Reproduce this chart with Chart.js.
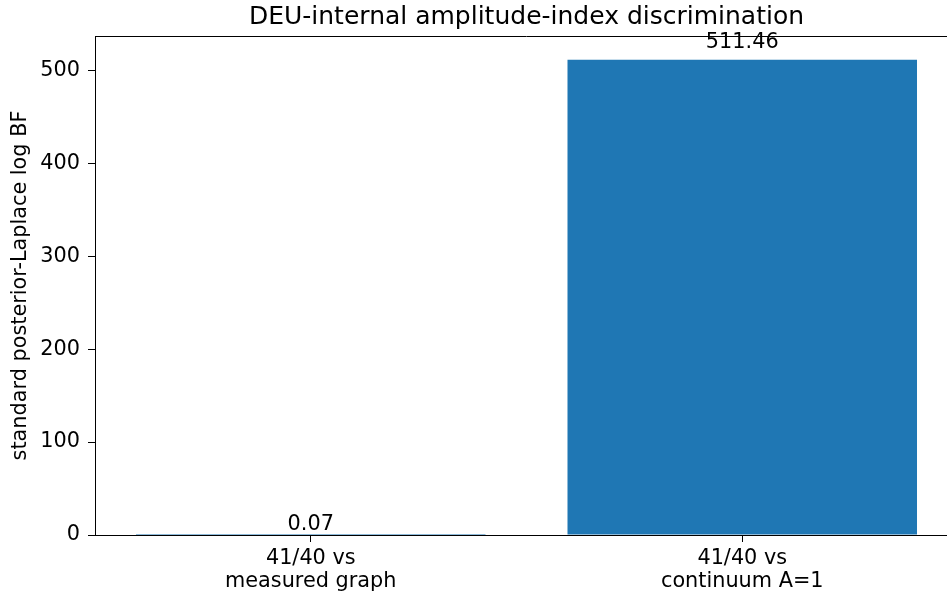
<!DOCTYPE html>
<html>
<head>
<meta charset="utf-8">
<script src="https://cdn.jsdelivr.net/npm/chart.js@4.4.1/dist/chart.umd.min.js"></script>
<style>
  html, body { margin: 0; padding: 0; background: #fff; overflow: hidden; }
  #wrap { width: 958px; height: 597px; }
</style>
</head>
<body>
<div id="wrap"><canvas id="bfChart" width="958" height="597"></canvas></div>
<script>
const categories = [["41/40 vs", "measured graph"], ["41/40 vs", "continuum A=1"]];
const logBF = [0.07, 511.46];
const valueLabels = ["0.07", "511.46"];
const yTicks = [0, 100, 200, 300, 400, 500];

const FONT = "'DejaVu Sans', sans-serif";

// title centred over the axes, top spine and value labels
const extras = {
    id: 'extras',
    afterDraw(chart) {
        const ctx = chart.ctx;
        const a = chart.chartArea;
        const x = chart.scales.x, y = chart.scales.y;
        ctx.save();
        ctx.strokeStyle = '#000';
        ctx.lineWidth = 1;
        ctx.beginPath();
        ctx.moveTo(a.left, a.top + 0.5);
        ctx.lineTo(a.right, a.top + 0.5);
        ctx.stroke();

        ctx.fillStyle = '#000';
        ctx.font = '25px ' + FONT;
        ctx.textAlign = 'center';
        ctx.textBaseline = 'alphabetic';
        ctx.fillText('DEU-internal amplitude-index discrimination', (a.left + a.right) / 2, 24);

        ctx.font = '20.8px ' + FONT;
        logBF.forEach((v, i) => {
            ctx.fillText(valueLabels[i], x.getPixelForValue(i), y.getPixelForValue(v * 1.015) - 5);
        });
        ctx.restore();
    }
};

new Chart(document.getElementById('bfChart'), {
    type: 'bar',
    data: {
        labels: categories,
        datasets: [{
            data: logBF,
            backgroundColor: '#1f77b4',
            borderWidth: 0,
            barPercentage: 0.81,
            categoryPercentage: 1.0
        }]
    },
    options: {
        responsive: false,
        animation: false,
        layout: { padding: { top: 36, right: 0, bottom: 0, left: 0 } },
        plugins: {
            legend: { display: false },
            tooltip: { enabled: false }
        },
        scales: {
            x: {
                offset: true,
                afterFit(scale) { scale.height = 62; },
                grid: { offset: false, drawOnChartArea: false, drawTicks: true, tickLength: 7, color: '#000' },
                border: { color: '#000', width: 1 },
                ticks: { color: '#000', font: { family: FONT, size: 20.8, lineHeight: '23px' }, padding: 5, maxRotation: 0 }
            },
            y: {
                min: 0,
                max: 537,
                afterFit(scale) { scale.width = 95; },
                afterBuildTicks(scale) { scale.ticks = yTicks.map(v => ({ value: v })); },
                grid: { drawOnChartArea: false, drawTicks: true, tickLength: 7, color: '#000' },
                border: { color: '#000', width: 1 },
                ticks: { color: '#000', font: { family: FONT, size: 20.8 }, padding: 8 },
                title: {
                    display: true,
                    text: 'standard posterior-Laplace log BF',
                    color: '#000',
                    font: { family: FONT, size: 20.8 },
                    padding: { top: 8, bottom: 0 }
                }
            }
        }
    },
    plugins: [extras]
});
</script>
</body>
</html>
